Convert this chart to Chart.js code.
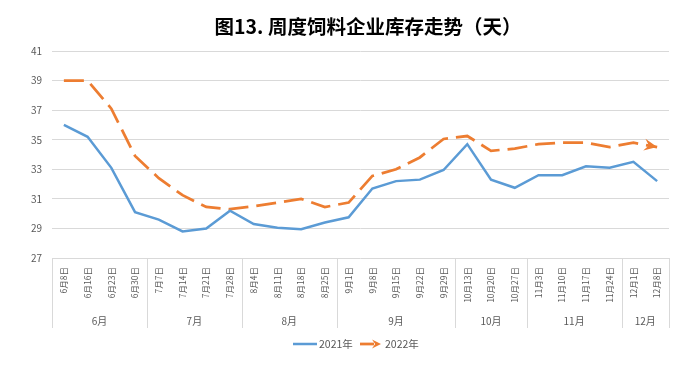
<!DOCTYPE html>
<html>
<head>
<meta charset="utf-8">
<script src="https://cdn.jsdelivr.net/npm/chart.js@4.4.1/dist/chart.umd.min.js"></script>
<style>
  html, body { margin: 0; padding: 0; background: #fff; }
</style>
</head>
<body>
<canvas id="chart" width="691" height="373"></canvas>
<script>
const dates = ['6月8日', '6月16日', '6月23日', '6月30日', '7月7日', '7月14日', '7月21日', '7月28日',
  '8月4日', '8月11日', '8月18日', '8月25日', '9月1日', '9月8日', '9月15日', '9月22日', '9月29日',
  '10月13日', '10月20日', '10月27日', '11月3日', '11月10日', '11月17日', '11月24日', '12月1日', '12月8日'];
const stock2021 = [36.0, 35.2, 33.1, 30.1, 29.6, 28.8, 29.0, 30.2, 29.3, 29.05, 28.95, 29.4, 29.75,
  31.7, 32.2, 32.3, 32.95, 34.7, 32.3, 31.75, 32.6, 32.6, 33.2, 33.1, 33.5, 32.2];
const stock2022 = [39.0, 39.0, 37.1, 33.9, 32.4, 31.25, 30.45, 30.3, 30.5, 30.75, 31.0, 30.45, 30.75,
  32.55, 33.0, 33.8, 35.05, 35.25, 34.25, 34.4, 34.7, 34.8, 34.8, 34.5, 34.8, 34.5];
const yMin = 27, yMax = 41, yStep = 2;
const seriesNames = ['2021年', '2022年'];
const chartTitle = '图13. 周度饲料企业库存走势（天）';

const FONT = '"Noto Sans CJK SC", "Noto Sans", sans-serif';
const GRAY = '#595959';
const GRID = '#d9d9d9';
const BLUE = '#5b9bd5';
const ORANGE = '#ed7d31';

// group the week labels by month for the second axis row
function monthGroups(labels) {
  const groups = [];
  labels.forEach((l, i) => {
    const m = l.split('月')[0] + '月';
    const last = groups[groups.length - 1];
    if (last && last.name === m) last.end = i;
    else groups.push({ name: m, start: i, end: i });
  });
  return groups;
}

function drawArrowHead(ctx, x0, y0, x1, y1, len, wid, color) {
  const a = Math.atan2(y1 - y0, x1 - x0);
  ctx.save();
  ctx.translate(x1, y1);
  ctx.rotate(a);
  ctx.fillStyle = color;
  ctx.beginPath();
  ctx.moveTo(0, 0);
  ctx.lineTo(-len, -wid / 2);
  ctx.lineTo(-len * 0.65, 0);
  ctx.lineTo(-len, wid / 2);
  ctx.closePath();
  ctx.fill();
  ctx.restore();
}

const extras = {
  id: 'extras',
  afterDatasetsDraw(chart) {
    const pts = chart.getDatasetMeta(1).data;
    const a = pts[pts.length - 2], b = pts[pts.length - 1];
    drawArrowHead(chart.ctx, a.x, a.y, b.x, b.y, 13, 12, ORANGE);
  },
  afterDraw(chart) {
    const ctx = chart.ctx;
    const x = chart.scales.x;
    const area = chart.chartArea;
    const step = x.getPixelForValue(1) - x.getPixelForValue(0);
    ctx.save();

    // title
    ctx.fillStyle = '#000';
    ctx.font = 'bold 19.5px ' + FONT;
    ctx.textAlign = 'center';
    ctx.textBaseline = 'middle';
    ctx.fillText(chartTitle, 368, 27);

    // month row + separators
    ctx.strokeStyle = GRID;
    ctx.lineWidth = 1;
    ctx.fillStyle = GRAY;
    ctx.font = '10px ' + FONT;
    const groups = monthGroups(dates);
    groups.forEach((g, k) => {
      const left = x.getPixelForValue(g.start) - step / 2;
      const right = x.getPixelForValue(g.end) + step / 2;
      const lines = k === groups.length - 1 ? [left, right] : [left];
      lines.forEach(px => {
        const p = Math.round(px) + 0.5;
        ctx.beginPath();
        ctx.moveTo(p, area.bottom);
        ctx.lineTo(p, 328);
        ctx.stroke();
      });
      ctx.fillText(g.name, (left + right) / 2, 321);
    });

    // legend
    ctx.textAlign = 'left';
    ctx.font = '10.5px ' + FONT;
    ctx.strokeStyle = BLUE;
    ctx.lineWidth = 2.5;
    ctx.beginPath();
    ctx.moveTo(293, 344);
    ctx.lineTo(317, 344);
    ctx.stroke();
    ctx.fillText(seriesNames[0], 319, 344);
    ctx.strokeStyle = ORANGE;
    ctx.lineWidth = 2.75;
    ctx.beginPath();
    ctx.moveTo(360, 344);
    ctx.lineTo(374, 344);
    ctx.stroke();
    drawArrowHead(ctx, 360, 344, 381, 344, 9, 9, ORANGE);
    ctx.fillText(seriesNames[1], 385, 344);
    ctx.restore();
  }
};

new Chart(document.getElementById('chart'), {
  type: 'line',
  data: {
    labels: dates,
    datasets: [
      { label: seriesNames[0], data: stock2021, borderColor: BLUE, borderWidth: 2.5,
        pointRadius: 0, tension: 0, fill: false },
      { label: seriesNames[1], data: stock2022, borderColor: ORANGE, borderWidth: 2.75,
        borderDash: [20, 8], pointRadius: 0, tension: 0, fill: false }
    ]
  },
  options: {
    responsive: false,
    animation: false,
    layout: { padding: { top: 51, right: 22, left: 0, bottom: 0 } },
    plugins: { legend: { display: false }, tooltip: { enabled: false }, title: { display: false } },
    scales: {
      x: {
        offset: true,
        grid: { display: false, drawTicks: false },
        border: { display: false },
        ticks: { color: GRAY, font: { family: FONT, size: 8.5 }, autoSkip: false,
          minRotation: 90, maxRotation: 90, padding: 9 },
        afterFit: s => { s.height = 115; }
      },
      y: {
        min: yMin, max: yMax,
        grid: { color: GRID, lineWidth: 1, drawTicks: false },
        border: { display: false },
        ticks: { stepSize: yStep, color: GRAY, font: { family: FONT, size: 10 }, padding: 10 },
        afterFit: s => { s.width = 52; }
      }
    }
  },
  plugins: [extras]
});
</script>
</body>
</html>
